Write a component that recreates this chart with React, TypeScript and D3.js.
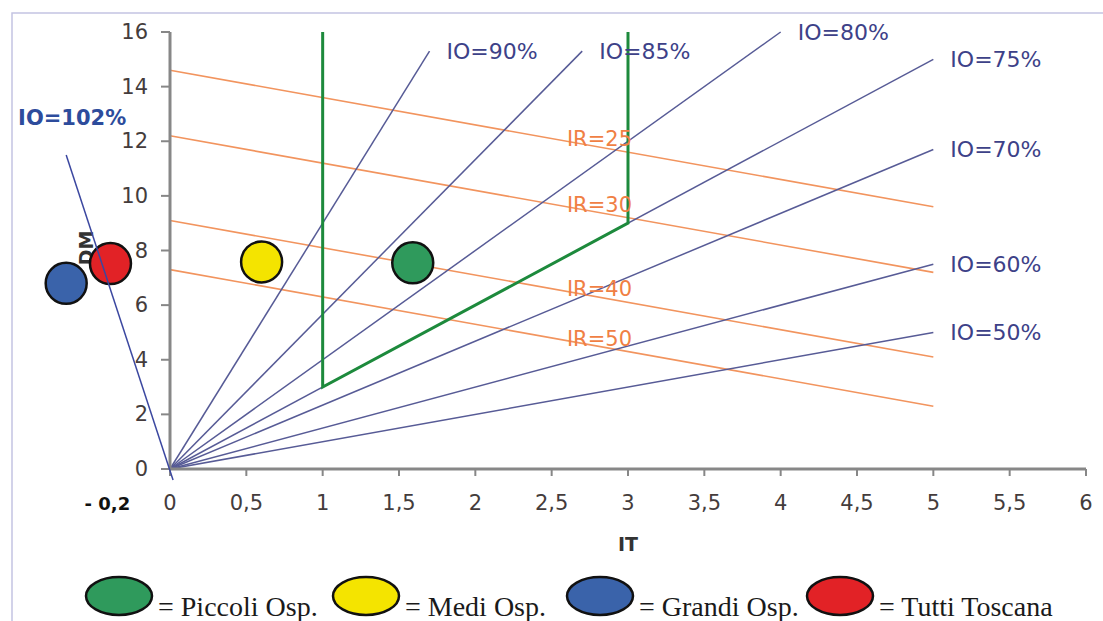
import React from "react";
import * as d3 from "d3";

// ---- data ----
const xTicks = [0, 0.5, 1, 1.5, 2, 2.5, 3, 3.5, 4, 4.5, 5, 5.5, 6];
const xTickLabels = ["0", "0,5", "1", "1,5", "2", "2,5", "3", "3,5", "4", "4,5", "5", "5,5", "6"];
const yTicks = [0, 2, 4, 6, 8, 10, 12, 14, 16];

// occupancy (IO) rays from the origin
const ioLabels = ["IO=90%", "IO=85%", "IO=80%", "IO=75%", "IO=70%", "IO=60%", "IO=50%"];
const ioEndIT = [1.7, 2.7, 4, 5, 5, 5, 5];
const ioEndDM = [15.3, 15.3, 16, 15, 11.7, 7.5, 5];

// IO = 102% line
const io102IT = [-0.68, 0.02];
const io102DM = [11.5, -0.4];

// turnover (IR) lines
const irLabels = ["IR=25", "IR=30", "IR=40", "IR=50"];
const irStartDM = [14.6, 12.2, 9.1, 7.3];
const irEndDM = [9.6, 7.2, 4.1, 2.3];
const irStartIT = 0;
const irEndIT = 5;
const irLabelIT = 2.6;

// green efficiency region
const regionIT = [1, 1, 3, 3];
const regionDM = [16, 3, 9, 16];

// hospital groups
const groupNames = ["Piccoli Osp.", "Medi Osp.", "Grandi Osp.", "Tutti Toscana"];
const groupColors = ["#2f9a5c", "#f4e400", "#3a63aa", "#e22226"];
const groupIT = [1.59, 0.6, -0.68, -0.39];
const groupDM = [7.55, 7.58, 6.8, 7.52];

export default function App() {
  const W = 1103;
  const H = 621;
  const x = d3.scaleLinear().domain([0, 6]).range([170, 1086]);
  const y = d3.scaleLinear().domain([0, 16]).range([469, 32]);
  const line = d3
    .line<[number, number]>()
    .x((d) => x(d[0]))
    .y((d) => y(d[1]));

  const sans = "'DejaVu Sans', Arial, sans-serif";
  const serif = "'Liberation Serif', 'Times New Roman', serif";

  const legendCx = [119, 366, 600, 840];

  return (
    <div style={{ position: "fixed", left: 0, top: 0 }}>
      <svg width={W} height={H} style={{ display: "block", background: "#fff" }}>
        {/* frame */}
        <path d={`M12,${H} V13 H${W}`} fill="none" stroke="#c4c4e2" strokeWidth={1.5} />

        {/* IR lines */}
        {irLabels.map((lab, i) => (
          <path
            key={"ir" + i}
            d={line([
              [irStartIT, irStartDM[i]],
              [irEndIT, irEndDM[i]],
            ]) || ""}
            fill="none"
            stroke="#f2945e"
            strokeWidth={1.6}
          />
        ))}

        {/* IO rays */}
        {ioLabels.map((lab, i) => (
          <path
            key={"io" + i}
            d={line([
              [0, 0],
              [ioEndIT[i], ioEndDM[i]],
            ]) || ""}
            fill="none"
            stroke="#575b96"
            strokeWidth={1.5}
          />
        ))}

        {/* green region */}
        <path
          d={line(regionIT.map((v, i) => [v, regionDM[i]] as [number, number])) || ""}
          fill="none"
          stroke="#1d8a3c"
          strokeWidth={3}
        />

        {/* axes */}
        <line x1={x(0)} x2={x(0)} y1={y(16)} y2={y(0)} stroke="#878787" strokeWidth={3} />
        <line x1={x(0)} x2={x(6)} y1={y(0)} y2={y(0)} stroke="#878787" strokeWidth={3} />
        {yTicks.map((t) => (
          <g key={"yt" + t}>
            <line x1={x(0) - 9} x2={x(0)} y1={y(t)} y2={y(t)} stroke="#878787" strokeWidth={2} />
            <text
              x={x(0) - 22}
              y={y(t)}
              textAnchor="end"
              dominantBaseline="central"
              fontFamily={sans}
              fontSize={21}
              fill="#443c3c"
            >
              {t}
            </text>
          </g>
        ))}
        {xTicks.map((t, i) => (
          <g key={"xt" + t}>
            <line x1={x(t)} x2={x(t)} y1={y(0)} y2={y(0) + 7} stroke="#878787" strokeWidth={2} />
            <text
              x={x(t)}
              y={503}
              textAnchor="middle"
              dominantBaseline="central"
              fontFamily={sans}
              fontSize={21}
              fill="#443c3c"
            >
              {xTickLabels[i]}
            </text>
          </g>
        ))}
        <text
          x={x(-0.41)}
          y={503}
          textAnchor="middle"
          dominantBaseline="central"
          fontFamily={sans}
          fontWeight="bold"
          fontSize={18}
          fill="#111"
        >
          - 0,2
        </text>
        <text
          x={x(3)}
          y={544}
          textAnchor="middle"
          dominantBaseline="central"
          fontFamily={sans}
          fontWeight="bold"
          fontSize={19}
          fill="#333"
        >
          IT
        </text>
        <text
          transform={`translate(86,248) rotate(-90)`}
          textAnchor="middle"
          dominantBaseline="central"
          fontFamily={sans}
          fontWeight="bold"
          fontSize={19}
          fill="#333"
        >
          DM
        </text>

        {/* IO labels */}
        {ioLabels.map((lab, i) => (
          <text
            key={"iol" + i}
            x={x(ioEndIT[i]) + 17}
            y={y(ioEndDM[i])}
            dominantBaseline="central"
            fontFamily={sans}
            fontSize={22}
            fill="#3d4188"
          >
            {lab}
          </text>
        ))}

        {/* IR labels */}
        {irLabels.map((lab, i) => {
          const t = (irLabelIT - irStartIT) / (irEndIT - irStartIT);
          const dm = irStartDM[i] + t * (irEndDM[i] - irStartDM[i]);
          return (
            <text
              key={"irl" + i}
              x={x(irLabelIT)}
              y={y(dm) - 2}
              dominantBaseline="central"
              fontFamily={sans}
              fontSize={21}
              fill="#f07f44"
            >
              {lab}
            </text>
          );
        })}

        {/* groups */}
        {groupNames.map((g, i) => (
          <circle
            key={"c" + i}
            cx={x(groupIT[i])}
            cy={y(groupDM[i])}
            r={20.5}
            fill={groupColors[i]}
            stroke="#111"
            strokeWidth={2.5}
          />
        ))}

        {/* IO = 102% */}
        <path
          d={line([
            [io102IT[0], io102DM[0]],
            [io102IT[1], io102DM[1]],
          ]) || ""}
          fill="none"
          stroke="#3b47a0"
          strokeWidth={1.5}
        />
        <text
          x={x(io102IT[0]) + 6}
          y={118}
          textAnchor="middle"
          dominantBaseline="central"
          fontFamily={sans}
          fontWeight="bold"
          fontSize={21}
          fill="#2d4c9c"
        >
          IO=102%
        </text>

        {/* legend */}
        {groupNames.map((g, i) => (
          <g key={"lg" + i}>
            <ellipse
              cx={legendCx[i]}
              cy={596}
              rx={33}
              ry={19}
              fill={groupColors[i]}
              stroke="#111"
              strokeWidth={2.5}
            />
            <text
              x={legendCx[i] + 39}
              y={616}
              fontFamily={serif}
              fontSize={28}
              fill="#1a1a1a"
            >
              {"= " + g}
            </text>
          </g>
        ))}
      </svg>
    </div>
  );
}
